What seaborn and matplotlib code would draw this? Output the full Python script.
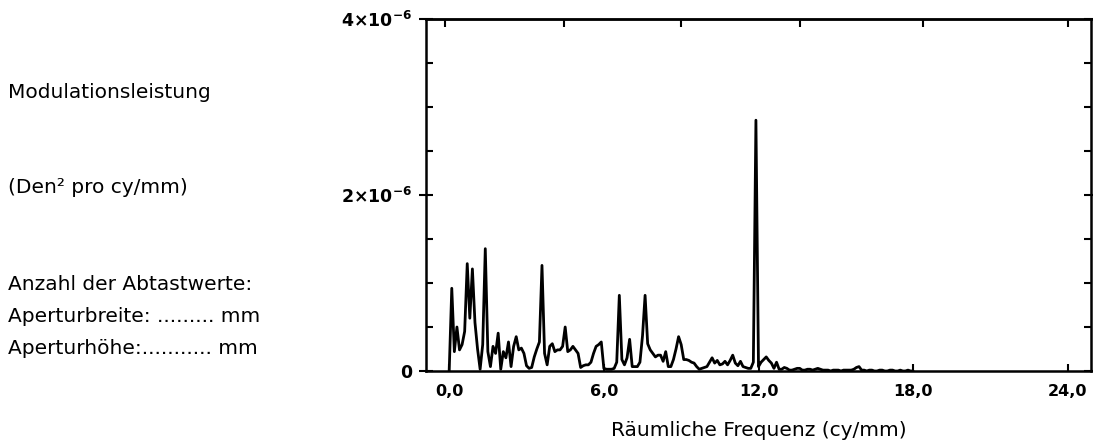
import numpy as np
import seaborn as sns
import matplotlib
matplotlib.use("Agg")
import matplotlib.pyplot as plt
from matplotlib.ticker import MultipleLocator

# Modulationsleistung in 1e-6 Den^2 pro cy/mm, Schritt 0.1 cy/mm ab 0.0
power = [
    0.00, 0.94, 0.22, 0.50, 0.24, 0.30, 0.45, 1.22, 0.60, 1.16,   # 0.0 - 0.9
    0.55, 0.25, 0.02, 0.30, 1.39, 0.22, 0.05, 0.28, 0.20, 0.43,   # 1.0 - 1.9
    0.02, 0.22, 0.15, 0.33, 0.05, 0.28, 0.39, 0.24, 0.26, 0.20,   # 2.0
    0.06, 0.03, 0.04, 0.16, 0.25, 0.33, 1.20, 0.20, 0.07, 0.28,   # 3.0
    0.31, 0.22, 0.24, 0.24, 0.28, 0.50, 0.22, 0.24, 0.28, 0.24,   # 4.0
    0.20, 0.04, 0.06, 0.07, 0.07, 0.10, 0.20, 0.28, 0.30, 0.33,   # 5.0
    0.03, 0.02, 0.02, 0.02, 0.03, 0.10, 0.86, 0.13, 0.07, 0.15,   # 6.0
    0.36, 0.05, 0.05, 0.05, 0.10, 0.40, 0.86, 0.31, 0.24, 0.20,   # 7.0
    0.16, 0.18, 0.18, 0.11, 0.22, 0.05, 0.05, 0.13, 0.25, 0.39,   # 8.0
    0.30, 0.13, 0.13, 0.12, 0.10, 0.09, 0.05, 0.02, 0.03, 0.04,   # 9.0
    0.05, 0.10, 0.15, 0.09, 0.12, 0.07, 0.08, 0.11, 0.07, 0.12,   # 10.0
    0.18, 0.09, 0.06, 0.11, 0.05, 0.04, 0.03, 0.03, 0.10, 2.85,   # 11.0
    0.05, 0.10, 0.13, 0.16, 0.12, 0.09, 0.03, 0.10, 0.02, 0.02,   # 12.0
    0.04, 0.03, 0.01, 0.01, 0.02, 0.03, 0.03, 0.01, 0.01, 0.02,   # 13.0
    0.02, 0.01, 0.02, 0.03, 0.02, 0.01, 0.01, 0.01, 0.00, 0.01,   # 14.0
    0.01, 0.01, 0.00, 0.01, 0.01, 0.01, 0.01, 0.02, 0.04, 0.05,   # 15.0
    0.01, 0.01, 0.00, 0.01, 0.01, 0.00, 0.00, 0.01, 0.01, 0.00,   # 16.0
    0.00, 0.01, 0.01, 0.00, 0.00, 0.01, 0.00, 0.00, 0.01, 0.00,   # 17.0
    0.00,
]
freq = np.round(np.arange(len(power)) * 0.1, 1)
power_den = np.array(power) * 1e-6

x_ticks = [0, 6, 12, 18, 24]
x_labels = ["0,0", "6,0", "12,0", "18,0", "24,0"]
top_ticks = [-0.15, 4.45, 9.0, 13.6, 18.4, 24.0]
y_ticks = [0, 2e-6, 4e-6]
y_labels = ["0", r"$\mathbf{2{\times}10^{-6}}$", r"$\mathbf{4{\times}10^{-6}}$"]

left_texts = ["Modulationsleistung", "(Den² pro cy/mm)", "Anzahl der Abtastwerte:",
              "Aperturbreite: ......... mm", "Aperturhöhe:........... mm"]
left_baselines = [98, 193, 290, 322, 354]

sns.set_style("white")
plt.rcParams["font.family"] = ["DejaVu Sans"]
plt.rcParams["mathtext.fontset"] = "dejavusans"
plt.rcParams["text.color"] = "black"
plt.rcParams["axes.labelcolor"] = "black"
plt.rcParams["xtick.color"] = "black"
plt.rcParams["ytick.color"] = "black"

W, H = 1093, 440
fig = plt.figure(figsize=(W / 100, H / 100), dpi=100)
ax = fig.add_axes([426 / W, (H - 371) / H, (1091 - 426) / W, (371 - 19) / H])

sns.lineplot(x=freq, y=power_den, ax=ax, color="black", linewidth=2.0)

ax.set_xlim(-0.9, 24.9)
ax.set_ylim(0, 4e-6)
for s in ax.spines.values():
    s.set_visible(True)
    s.set_linewidth(1.8)
    s.set_color("black")

ax.set_xticks(x_ticks)
ax.set_xticklabels(x_labels, fontweight="bold", fontsize=11.5)
ax.set_yticks(y_ticks)
ax.set_yticklabels(y_labels, fontsize=12.5, fontweight="bold")
ax.yaxis.set_minor_locator(MultipleLocator(0.5e-6))
ax.tick_params(axis="x", direction="in", length=5, width=1.5, pad=9, top=False, bottom=True)
ax.tick_params(axis="y", which="major", direction="inout", length=10, width=1.5, pad=5,
               left=True, right=True)
ax.tick_params(axis="y", which="minor", direction="in", length=5, width=1.5,
               left=True, right=True)

secax = ax.secondary_xaxis("top")
secax.set_xticks(top_ticks)
secax.set_xticklabels([])
secax.tick_params(direction="in", length=6, width=1.5)
secax.spines["top"].set_linewidth(1.8)

ax.set_xlabel("Räumliche Frequenz (cy/mm)", fontsize=14.5, labelpad=16, color="black")
ax.set_ylabel("")

for txt, yb in zip(left_texts, left_baselines):
    fig.text(8 / W, (H - yb) / H, txt, fontsize=14.5, ha="left", va="baseline", color="black")

fig.savefig("out.png", dpi=100, facecolor="white")
